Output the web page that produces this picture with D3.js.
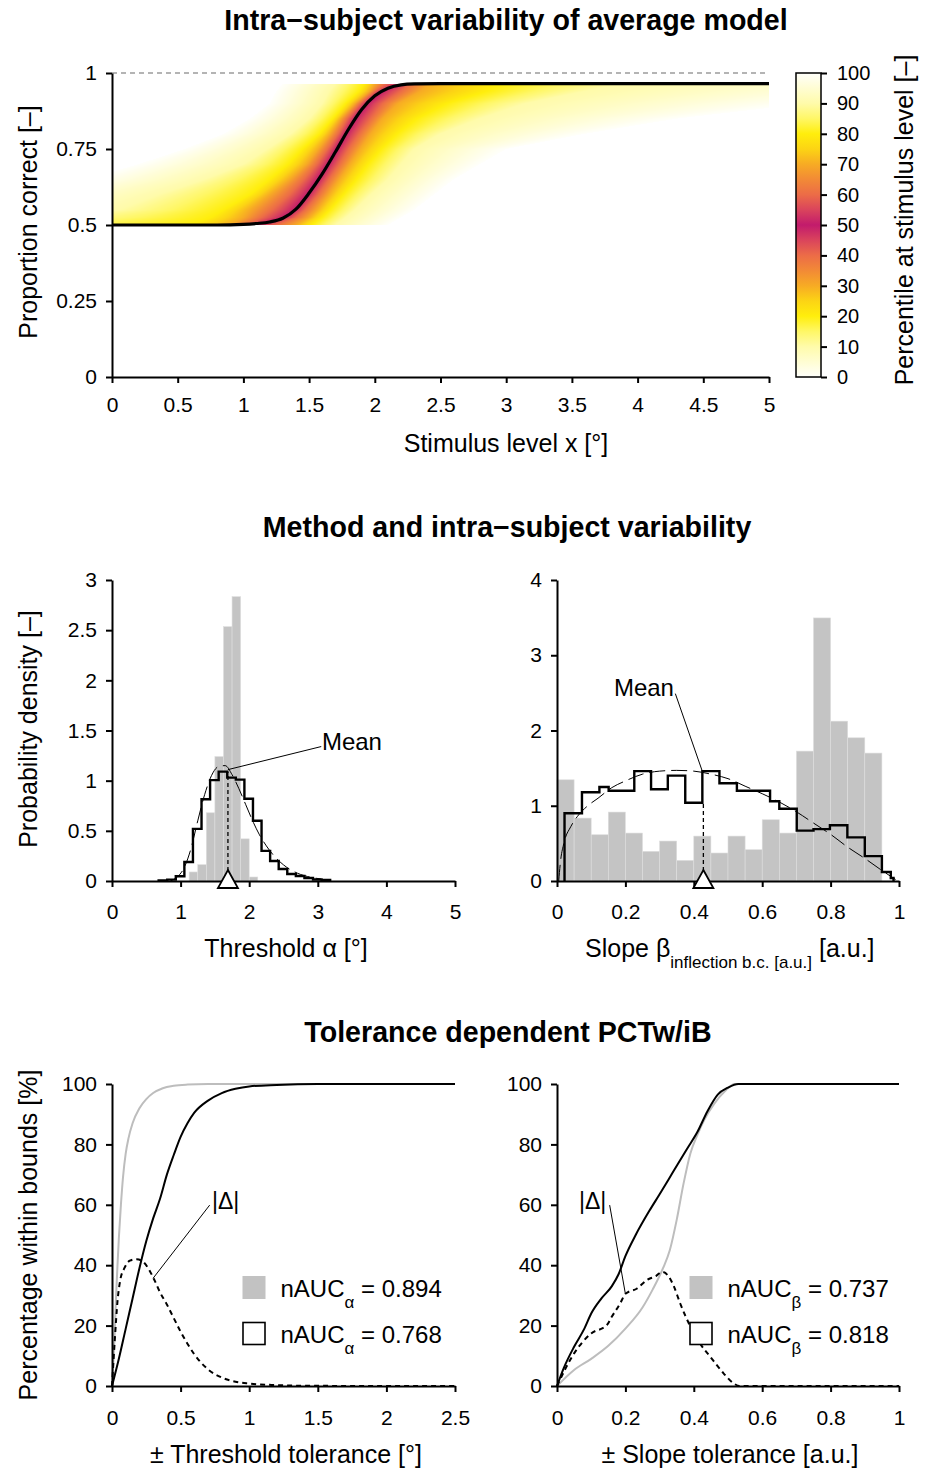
<!DOCTYPE html>
<html><head><meta charset="utf-8">
<script src="https://cdn.jsdelivr.net/npm/d3@7"></script>
<style>
body{margin:0;background:#fff;}
svg{display:block;}
</style></head><body>
<svg id="c" width="926" height="1469"></svg>
<script>
// ================= DATA =================
// --- Top panel: median psychometric function ---
const stimTicks = [0,0.5,1,1.5,2,2.5,3,3.5,4,4.5,5];
const propTicks = [0,0.25,0.5,0.75,1];
const medianX = [0,0.8,1.0,1.1,1.2,1.3,1.4,1.5,1.6,1.7,1.8,1.9,2.0,2.1,2.2,2.3,2.5,5.0];
const medianP = [0.5,0.5,0.502,0.505,0.51,0.522,0.552,0.605,0.668,0.74,0.815,0.88,0.925,0.95,0.961,0.964,0.965,0.965];
// percentile iso-lines: stimulus level where each percentile is reached, per proportion-correct row
const pctRows   = [0.5,0.525,0.55,0.6,0.65,0.7,0.75,0.8,0.85,0.9,0.94,0.965];
const pctLevels = [100,90,80,70,60,50,40,30,20,10,0];
const iso100 = [-3.0,-2.0,-1.4,-0.8,-0.2,0.2,0.55,0.85,1.05,1.2,1.25,1.3];
const iso90  = [-1.2,-0.4,0.05,0.35,0.7,1.0,1.18,1.36,1.5,1.6,1.65,1.7];
const iso80  = [0.6,0.75,0.85,1.05,1.2,1.34,1.45,1.58,1.68,1.78,1.88,1.92];
const iso70  = [0.9,1.0,1.05,1.2,1.35,1.48,1.57,1.66,1.74,1.85,1.96,2.0];
const iso60  = [1.02,1.14,1.22,1.35,1.46,1.56,1.64,1.72,1.79,1.89,2.0,2.08];
const iso50  = [1.1,1.31,1.39,1.49,1.57,1.645,1.71,1.78,1.85,1.94,2.05,2.2];
const iso40  = [1.25,1.4,1.47,1.57,1.65,1.73,1.8,1.88,1.97,2.06,2.2,2.27];
const iso30  = [1.4,1.5,1.56,1.65,1.73,1.81,1.89,1.97,2.06,2.18,2.35,2.42];
const iso20  = [1.52,1.6,1.66,1.76,1.86,1.95,2.05,2.17,2.32,2.55,2.85,2.95];
const iso10  = [1.7,1.78,1.85,1.97,2.1,2.2,2.3,2.5,2.8,3.15,3.6,3.9];
const iso0   = [2.1,2.2,2.3,2.45,2.6,2.8,3.0,3.6,4.3,5.3,6.3,7.0];
// colour bar
const cbTicks  = [0,10,20,30,40,50,60,70,80,90,100];
const cbStops  = [0,10,15,20,25,30,35,40,45,50,55,60,65,70,75,80,85,90,100];
const cbColors = ["#fffffb","#fffbaa","#fff766","#ffee0c","#fcd414","#f7ab24","#f28a36","#ec6c47","#da445c","#c21b6c",
                  "#da445c","#ec6c47","#f28a36","#f7ab24","#fcd414","#ffee0c","#fff766","#fffbaa","#fffffb"];

// --- Middle left: threshold histograms ---
const thrTicks = [0,1,2,3,4,5];
const thrDensTicks = [0,0.5,1,1.5,2,2.5,3];
const thrGrayEdges = [1.125,1.25,1.375,1.5,1.625,1.75,1.875,2.0,2.125];
const thrGrayH     = [0.09,0.163,0.68,1.24,2.535,2.834,0.42,0.04];
const thrBlackEdges = [0.68,0.805,0.93,1.055,1.18,1.305,1.43,1.555,1.68,1.805,1.93,2.055,2.18,2.305,2.43,2.555,2.68,2.805,2.93,3.055,3.18];
const thrBlackH     = [0.005,0.014,0.047,0.19,0.52,0.815,1.005,1.09,1.03,1.01,0.82,0.6,0.3,0.2,0.12,0.07,0.05,0.03,0.015,0.01];
const thrFitX = [0.85,0.95,1.05,1.15,1.25,1.35,1.45,1.55,1.65,1.75,1.85,1.95,2.05,2.15,2.25,2.35,2.45,2.55,2.65,2.75,2.85,2.95,3.05];
const thrFitY = [0,0.04,0.13,0.32,0.6,0.86,1.05,1.14,1.15,1.06,0.92,0.76,0.6,0.46,0.35,0.26,0.19,0.135,0.095,0.065,0.045,0.03,0.02];
const thrMean = 1.69, thrMeanTop = 1.09;

// --- Middle right: slope histograms ---
const slpTicks = [0,0.2,0.4,0.6,0.8,1];
const slpDensTicks = [0,1,2,3,4];
const slpGrayEdges = [0,0.05,0.1,0.15,0.2,0.25,0.3,0.35,0.4,0.45,0.5,0.55,0.6,0.65,0.7,0.75,0.8,0.85,0.9,0.95];
const slpGrayH     = [1.345,0.836,0.615,0.916,0.637,0.394,0.531,0.274,0.597,0.372,0.597,0.416,0.814,0.637,1.726,3.496,2.124,1.903,1.7];
const slpBlackEdges = [0.022,0.073,0.124,0.151,0.226,0.275,0.324,0.375,0.425,0.475,0.526,0.623,0.65,0.701,0.75,0.798,0.849,0.9,0.95,0.976,0.984];
const slpBlackH     = [0.9,1.18,1.25,1.2,1.46,1.22,1.4,1.04,1.46,1.3,1.2,1.06,0.96,0.67,0.69,0.74,0.58,0.33,0.12,0.04];
const slpFitX = [0.005,0.01,0.02,0.04,0.06,0.09,0.12,0.16,0.2,0.25,0.3,0.35,0.4,0.45,0.5,0.55,0.6,0.65,0.7,0.75,0.8,0.85,0.9,0.95,0.99];
const slpFitY = [0.0,0.25,0.5,0.72,0.86,1.0,1.1,1.24,1.33,1.42,1.46,1.47,1.46,1.42,1.36,1.26,1.16,1.05,0.92,0.77,0.62,0.45,0.3,0.14,0.02];
const slpMean = 0.428, slpMeanTop = 1.04;

// --- Bottom: tolerance curves ---
const tolThrTicks = [0,0.5,1,1.5,2,2.5];
const tolSlpTicks = [0,0.2,0.4,0.6,0.8,1];
const pctTicks = [0,20,40,60,80,100];
const thrGrayTolX = [0,0.01,0.02,0.03,0.04,0.05,0.065,0.08,0.1,0.12,0.15,0.2,0.25,0.3,0.37,0.45,0.55,0.7,2.5];
const thrGrayTolY = [0,8,18,30,40,49,60,69,77,82,87,92,95,97,98.6,99.4,99.8,100,100];
const thrBlackTolX = [0,0.05,0.1,0.15,0.2,0.25,0.3,0.35,0.4,0.45,0.5,0.55,0.6,0.7,0.8,0.9,1.0,1.2,1.5,2.5];
const thrBlackTolY = [0,9,19,29,39,48,55.5,62,70,76.5,82.5,87,90.5,94.5,97,98.4,99.2,99.7,100,100];
const thrDeltaX = [0,0.02,0.04,0.06,0.09,0.13,0.18,0.23,0.27,0.31,0.35,0.4,0.45,0.5,0.55,0.6,0.7,0.8,0.9,1.0,1.2,1.5,2.5];
const thrDeltaY = [0,15,28,35,39,41.5,42,41,38.5,35,31,27,22.5,18,14,10.5,5.5,2.8,1.4,0.8,0.3,0.05,0];
const slpBlackTolX = [0,0.02,0.05,0.08,0.1,0.13,0.16,0.18,0.2,0.23,0.27,0.3,0.34,0.38,0.41,0.44,0.47,0.5,0.53,1];
const slpBlackTolY = [0,6,13,19,24,29,33,37,43,50,58,63.5,71,78.5,84,91,96.5,98.8,100,100];
const slpGrayTolX = [0,0.05,0.1,0.15,0.2,0.25,0.28,0.31,0.33,0.35,0.37,0.39,0.41,0.43,0.46,0.49,0.52,1];
const slpGrayTolY = [0,5.3,9,13.3,19,26,32,39,45,55,67,77,83,88,93.5,97.5,100,100];
const slpDeltaX = [0,0.05,0.1,0.146,0.16,0.185,0.2,0.234,0.263,0.29,0.307,0.325,0.341,0.36,0.39,0.418,0.448,0.487,0.516,0.535,1];
const slpDeltaY = [0,10.8,17.4,20.2,22.9,27.4,30.5,32.3,35.1,36.5,37.8,36.5,33.2,27.4,19.7,14.1,9.7,4.2,0.9,0,0];
const nAUCThr = ["0.894","0.768"];
const nAUCSlp = ["0.737","0.818"];

// ================= DRAWING =================
const F = '"Liberation Sans", Arial, Helvetica, sans-serif';
const svg = d3.select('#c').attr('font-family', F);
const fmt = d => String(d);

function axis(gen, tx, ty, ticks, pad, fs) {
  const g = svg.append('g').attr('transform', `translate(${tx},${ty})`)
    .call(gen.tickValues(ticks).tickFormat(fmt).tickSize(6).tickSizeOuter(0).tickPadding(pad));
  g.attr('font-family', F).attr('font-size', fs || 21);
  g.select('.domain').attr('stroke', '#000').attr('stroke-width', 2);
  g.selectAll('.tick line').attr('stroke', '#000').attr('stroke-width', 2);
  g.selectAll('.tick text').attr('fill', '#000');
  return g;
}
function text(x, y, s, size, opts) {
  const t = svg.append('text').attr('x', x).attr('y', y).attr('font-size', size).attr('fill', '#000').text(s);
  if (opts && opts.anchor) t.attr('text-anchor', opts.anchor);
  if (opts && opts.bold) t.attr('font-weight', 'bold');
  return t;
}
function vtext(x, y, s, size) {
  svg.append('text').attr('transform', `translate(${x},${y}) rotate(-90)`)
    .attr('text-anchor', 'middle').attr('font-size', size).attr('fill', '#000').text(s);
}
function stepPts(edges, h) {
  const pts = [[edges[0], 0]];
  h.forEach((v, i) => { pts.push([edges[i], v]); pts.push([edges[i + 1], v]); });
  pts.push([edges[edges.length - 1], 0]);
  return pts;
}

// ---------- TOP PANEL ----------
const xTop = d3.scaleLinear().domain([0, 5]).range([112, 769]);
const yTop = d3.scaleLinear().domain([0, 1]).range([377, 73]);
const cScale = d3.scaleLinear().domain(cbStops).range(cbColors).interpolate(d3.interpolateRgb);

text(506, 30, 'Intra\u2212subject variability of average model', 28.6, {anchor: 'middle', bold: true});

// heatmap raster computed from percentile iso-lines
(function () {
  const isoAll = [iso100, iso90, iso80, iso70, iso60, iso50, iso40, iso30, iso20, iso10, iso0];
  const pTop = pctRows[pctRows.length - 1], pBot = pctRows[0];
  const top = Math.floor(yTop(pTop)), bot = Math.ceil(yTop(pBot));
  const x0 = xTop(0), W = Math.round(xTop(5) - xTop(0)), H = bot - top;
  const cv = document.createElement('canvas'); cv.width = W; cv.height = H;
  const ctx = cv.getContext('2d'); const img = ctx.createImageData(W, H);
  for (let j = 0; j < H; j++) {
    const p = yTop.invert(top + j + 0.5);
    if (p < pBot || p > pTop) continue;
    let r = d3.bisectRight(pctRows, p) - 1; r = Math.max(0, Math.min(pctRows.length - 2, r));
    const t = (p - pctRows[r]) / (pctRows[r + 1] - pctRows[r]);
    const X = isoAll.map(a => a[r] + (a[r + 1] - a[r]) * t);
    for (let i = 0; i < W; i++) {
      const x = xTop.invert(x0 + i + 0.5);
      if (x < X[0] || x > X[X.length - 1]) continue;
      let k = 0; while (k < X.length - 2 && x > X[k + 1]) k++;
      const f = (x - X[k]) / (X[k + 1] - X[k] || 1e-9);
      const q = pctLevels[k] + (pctLevels[k + 1] - pctLevels[k]) * f;
      const c = d3.rgb(cScale(q));
      const o = (j * W + i) * 4;
      img.data[o] = c.r; img.data[o + 1] = c.g; img.data[o + 2] = c.b; img.data[o + 3] = 255;
    }
  }
  ctx.putImageData(img, 0, 0);
  svg.append('image').attr('x', x0).attr('y', top).attr('width', W).attr('height', H)
    .attr('preserveAspectRatio', 'none').attr('href', cv.toDataURL());
})();

svg.append('line').attr('x1', xTop(0)).attr('x2', xTop(5)).attr('y1', yTop(1)).attr('y2', yTop(1))
  .attr('stroke', '#6a6a6a').attr('stroke-width', 1.2).attr('stroke-dasharray', '5,4');
axis(d3.axisLeft(yTop), xTop(0), 0, propTicks, 9);
axis(d3.axisBottom(xTop), 0, yTop(0), stimTicks, 14);
svg.append('path').datum(d3.zip(medianX, medianP))
  .attr('d', d3.line().x(d => xTop(d[0])).y(d => yTop(d[1])).curve(d3.curveMonotoneX))
  .attr('fill', 'none').attr('stroke', '#000').attr('stroke-width', 3.2);
vtext(37, 222, 'Proportion correct [\u2013]', 25);
text(506, 452, 'Stimulus level x [\u00b0]', 25, {anchor: 'middle'});

// colour bar
const cbY = d3.scaleLinear().domain([0, 100]).range([377, 73]);
const grad = svg.append('defs').append('linearGradient').attr('id', 'cbg')
  .attr('x1', 0).attr('y1', 1).attr('x2', 0).attr('y2', 0);
cbStops.forEach((s, i) => grad.append('stop').attr('offset', s / 100).attr('stop-color', cbColors[i]));
svg.append('rect').attr('x', 796).attr('y', cbY(100)).attr('width', 25).attr('height', cbY(0) - cbY(100))
  .attr('fill', 'url(#cbg)').attr('stroke', '#000').attr('stroke-width', 1.5);
const cbAx = axis(d3.axisRight(cbY), 821, 0, cbTicks, 10, 20);
cbAx.select('.domain').remove();
vtext(913, 220, 'Percentile at stimulus level [\u2013]', 25);

// ---------- MIDDLE PANEL ----------
text(507, 537, 'Method and intra\u2212subject variability', 28.6, {anchor: 'middle', bold: true});
const xThr = d3.scaleLinear().domain([0, 5]).range([112, 455]);
const yThr = d3.scaleLinear().domain([0, 3]).range([881, 580]);
const xSlp = d3.scaleLinear().domain([0, 1]).range([557, 899]);
const ySlp = d3.scaleLinear().domain([0, 4]).range([881, 580]);
const lineXY = (xs, ys) => d3.line().x(d => xs(d[0])).y(d => ys(d[1]));

function histPanel(xs, ys, gEdges, gH, bEdges, bH, fitX, fitY, mean, meanTop) {
  svg.append('g').selectAll('rect').data(gH).join('rect')
    .attr('x', (d, i) => xs(gEdges[i])).attr('width', (d, i) => xs(gEdges[i + 1]) - xs(gEdges[i]))
    .attr('y', d => ys(d)).attr('height', d => ys(0) - ys(d))
    .attr('fill', '#c4c4c4').attr('stroke', '#dedede').attr('stroke-width', 0.6);
  svg.append('path').datum(d3.zip(fitX, fitY)).attr('d', lineXY(xs, ys).curve(d3.curveMonotoneX))
    .attr('fill', 'none').attr('stroke', '#000').attr('stroke-width', 1).attr('stroke-dasharray', '16,6');
  svg.append('path').datum(stepPts(bEdges, bH)).attr('d', lineXY(xs, ys))
    .attr('fill', 'none').attr('stroke', '#000').attr('stroke-width', 2.4).attr('stroke-linejoin', 'miter');
  svg.append('line').attr('x1', xs(mean)).attr('x2', xs(mean)).attr('y1', ys(0) - 10).attr('y2', ys(meanTop))
    .attr('stroke', '#000').attr('stroke-width', 1.3).attr('stroke-dasharray', '4,3');
}
histPanel(xThr, yThr, thrGrayEdges, thrGrayH, thrBlackEdges, thrBlackH, thrFitX, thrFitY, thrMean, thrMeanTop);
histPanel(xSlp, ySlp, slpGrayEdges, slpGrayH, slpBlackEdges, slpBlackH, slpFitX, slpFitY, slpMean, slpMeanTop);
axis(d3.axisLeft(yThr), xThr(0), 0, thrDensTicks, 9);
axis(d3.axisBottom(xThr), 0, yThr(0), thrTicks, 17);
axis(d3.axisLeft(ySlp), xSlp(0), 0, slpDensTicks, 9);
axis(d3.axisBottom(xSlp), 0, ySlp(0), slpTicks, 17);
function triangle(x, y0) {
  svg.append('path').attr('d', `M${x},${y0 - 11}L${x + 10},${y0 + 7}L${x - 10},${y0 + 7}Z`)
    .attr('fill', '#fff').attr('stroke', '#000').attr('stroke-width', 1.8);
}
triangle(xThr(thrMean), yThr(0));
triangle(xSlp(slpMean), ySlp(0));
// Mean annotations
svg.append('line').attr('x1', xThr(thrMean)).attr('y1', yThr(thrMeanTop + 0.02))
  .attr('x2', xThr(3.05)).attr('y2', yThr(1.34)).attr('stroke', '#000').attr('stroke-width', 1);
text(xThr(3.06), 750, 'Mean', 24);
svg.append('line').attr('x1', xSlp(0.424)).attr('y1', ySlp(1.47))
  .attr('x2', xSlp(0.346)).attr('y2', ySlp(2.49)).attr('stroke', '#000').attr('stroke-width', 1);
text(xSlp(0.342), 696, 'Mean', 24, {anchor: 'end'});

vtext(37, 729, 'Probability density [\u2013]', 25);
text(286, 957, 'Threshold \u03b1 [\u00b0]', 25, {anchor: 'middle'});
const st = text(585, 957, 'Slope \u03b2', 25);
st.append('tspan').attr('font-size', 17).attr('dy', 11).text('inflection b.c. [a.u.]');
st.append('tspan').attr('font-size', 25).attr('dy', -11).text(' [a.u.]');

// ---------- BOTTOM PANEL ----------
text(508, 1042, 'Tolerance dependent PCTw/iB', 28.6, {anchor: 'middle', bold: true});
const xTolT = d3.scaleLinear().domain([0, 2.5]).range([112, 455]);
const xTolS = d3.scaleLinear().domain([0, 1]).range([557, 899]);
const yTol = d3.scaleLinear().domain([0, 100]).range([1386, 1084]);

function tolPanel(xs, grayX, grayY, blackX, blackY, dX, dY) {
  svg.append('path').datum(d3.zip(grayX, grayY)).attr('d', lineXY(xs, yTol).curve(d3.curveMonotoneX))
    .attr('fill', 'none').attr('stroke', '#bdbdbd').attr('stroke-width', 2);
  svg.append('path').datum(d3.zip(blackX, blackY)).attr('d', lineXY(xs, yTol).curve(d3.curveMonotoneX))
    .attr('fill', 'none').attr('stroke', '#000').attr('stroke-width', 2);
  svg.append('path').datum(d3.zip(dX, dY)).attr('d', lineXY(xs, yTol).curve(d3.curveMonotoneX))
    .attr('fill', 'none').attr('stroke', '#000').attr('stroke-width', 2).attr('stroke-dasharray', '5,4');
}
tolPanel(xTolT, thrGrayTolX, thrGrayTolY, thrBlackTolX, thrBlackTolY, thrDeltaX, thrDeltaY);
tolPanel(xTolS, slpGrayTolX, slpGrayTolY, slpBlackTolX, slpBlackTolY, slpDeltaX, slpDeltaY);
axis(d3.axisLeft(yTol), xTolT(0), 0, pctTicks, 9);
axis(d3.axisBottom(xTolT), 0, yTol(0), tolThrTicks, 18);
axis(d3.axisLeft(yTol), xTolS(0), 0, pctTicks, 9);
axis(d3.axisBottom(xTolS), 0, yTol(0), tolSlpTicks, 18);

// |Δ| annotations
svg.append('line').attr('x1', xTolT(0.3)).attr('y1', yTol(35.7)).attr('x2', xTolT(0.712)).attr('y2', yTol(59.9))
  .attr('stroke', '#000').attr('stroke-width', 1);
text(212, 1209, '|\u0394|', 23);
svg.append('line').attr('x1', xTolS(0.2)).attr('y1', yTol(30.5)).attr('x2', xTolS(0.154)).attr('y2', yTol(59.9))
  .attr('stroke', '#000').attr('stroke-width', 1);
text(579, 1209, '|\u0394|', 23);

// legends
function legend(x, sub, vals) {
  svg.append('rect').attr('x', x).attr('y', 1276).attr('width', 23).attr('height', 23).attr('fill', '#c2c2c2');
  svg.append('rect').attr('x', x + 0.5).attr('y', 1322.5).attr('width', 22).attr('height', 22)
    .attr('fill', '#fff').attr('stroke', '#000').attr('stroke-width', 1.6);
  [1297, 1343].forEach((y, i) => {
    const t = text(x + 38, y, 'nAUC', 24);
    t.append('tspan').attr('font-size', 17).attr('dy', 11).text(sub);
    t.append('tspan').attr('font-size', 24).attr('dy', -11).text(' = ' + vals[i]);
  });
}
legend(242.5, '\u03b1', nAUCThr);
legend(689.5, '\u03b2', nAUCSlp);

vtext(37, 1235, 'Percentage within bounds [%]', 25);
text(286, 1463, '\u00b1 Threshold tolerance [\u00b0]', 25, {anchor: 'middle'});
text(730, 1463, '\u00b1 Slope tolerance [a.u.]', 25, {anchor: 'middle'});
</script>
</body></html>
